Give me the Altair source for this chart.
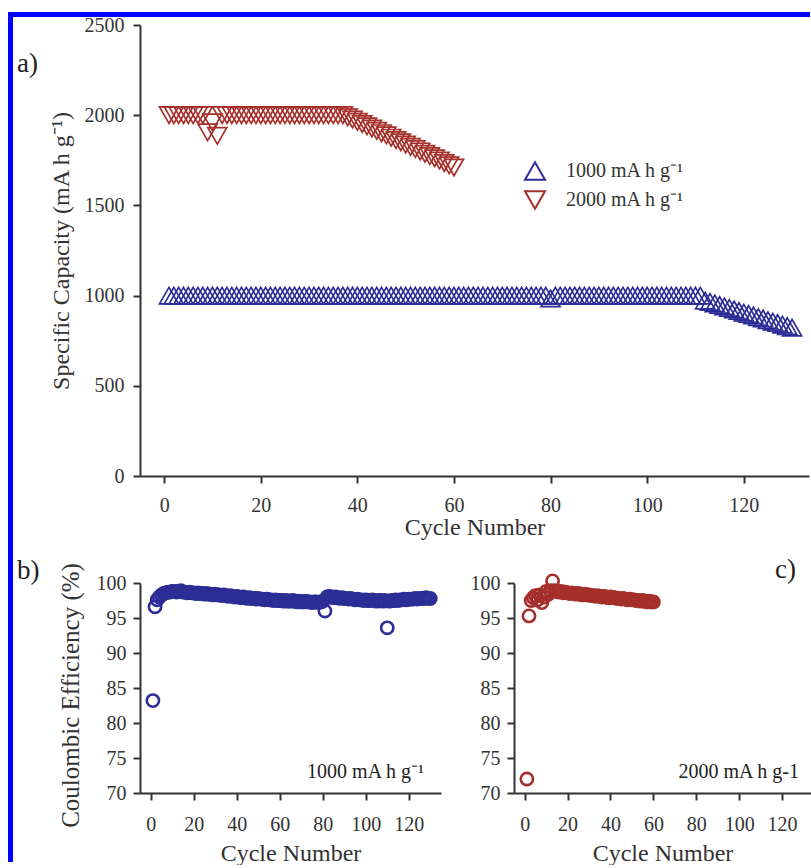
import altair as alt
import pandas as pd

# ---------------- data ----------------
cycles_1000 = list(range(1, 131))
cycles_2000 = list(range(1, 61))

cap_1000 = [
    1000, 1000, 1000, 1000, 1000, 1000, 1000, 1000, 1000, 1000,
    1000, 1000, 1000, 1000, 1000, 1000, 1000, 1000, 1000, 1000,
    1000, 1000, 1000, 1000, 1000, 1000, 1000, 1000, 1000, 1000,
    1000, 1000, 1000, 1000, 1000, 1000, 1000, 1000, 1000, 1000,
    1000, 1000, 1000, 1000, 1000, 1000, 1000, 1000, 1000, 1000,
    1000, 1000, 1000, 1000, 1000, 1000, 1000, 1000, 1000, 1000,
    1000, 1000, 1000, 1000, 1000, 1000, 1000, 1000, 1000, 1000,
    1000, 1000, 1000, 1000, 1000, 1000, 1000, 1000, 1000, 985,
    1000, 1000, 1000, 1000, 1000, 1000, 1000, 1000, 1000, 1000,
    1000, 1000, 1000, 1000, 1000, 1000, 1000, 1000, 1000, 1000,
    1000, 1000, 1000, 1000, 1000, 1000, 1000, 1000, 1000, 1000,
    1000, 972, 965, 957, 948, 940, 932, 923, 915, 906,
    898, 890, 881, 873, 864, 856, 848, 839, 831, 822,
]

cap_2000 = [
    2000, 2000, 2000, 2000, 2000, 2000, 2000, 2000, 1905, 1960,
    1885, 2000, 2000, 2000, 2000, 2000, 2000, 2000, 2000, 2000,
    2000, 2000, 2000, 2000, 2000, 2000, 2000, 2000, 2000, 2000,
    2000, 2000, 2000, 2000, 2000, 2000, 2000, 1988, 1976, 1963,
    1951, 1938, 1926, 1913, 1900, 1888, 1875, 1862, 1850, 1837,
    1824, 1812, 1799, 1786, 1773, 1761, 1748, 1735, 1722, 1710,
]

ce_1000 = [
    83.2, 96.6, 97.6, 98.0, 98.3, 98.5, 98.6, 98.7, 98.7, 98.8,
    98.8, 98.7, 98.8, 98.9, 98.7, 98.7, 98.6, 98.7, 98.6, 98.6,
    98.5, 98.6, 98.5, 98.5, 98.4, 98.5, 98.4, 98.4, 98.3, 98.4,
    98.3, 98.3, 98.2, 98.3, 98.2, 98.1, 98.2, 98.1, 98.0, 98.1,
    98.0, 97.9, 98.0, 97.9, 97.8, 97.9, 97.8, 97.8, 97.7, 97.8,
    97.7, 97.7, 97.6, 97.7, 97.6, 97.6, 97.5, 97.6, 97.5, 97.5,
    97.5, 97.4, 97.5, 97.4, 97.4, 97.5, 97.4, 97.3, 97.4, 97.3,
    97.3, 97.4, 97.3, 97.3, 97.2, 97.3, 97.3, 97.2, 97.3, 97.4,
    96.0, 98.0, 98.1, 98.0, 97.9, 98.0, 97.9, 97.8, 97.9, 97.8,
    97.8, 97.7, 97.8, 97.7, 97.6, 97.7, 97.6, 97.6, 97.5, 97.6,
    97.5, 97.5, 97.6, 97.5, 97.4, 97.5, 97.5, 97.4, 97.5, 93.6,
    97.4, 97.5, 97.5, 97.6, 97.5, 97.6, 97.6, 97.7, 97.6, 97.7,
    97.7, 97.7, 97.8, 97.7, 97.8, 97.8, 97.8, 97.9, 97.8, 97.8,
]

ce_2000 = [
    72.0, 95.3, 97.5, 97.9, 98.2, 97.6, 98.3, 97.2, 98.0, 98.8,
    98.4, 98.9, 100.3, 98.9, 98.8, 98.7, 98.8, 98.6, 98.7, 98.6,
    98.5, 98.6, 98.5, 98.4, 98.5, 98.4, 98.3, 98.4, 98.3, 98.3,
    98.2, 98.2, 98.1, 98.2, 98.1, 98.0, 98.1, 98.0, 97.9, 98.0,
    97.9, 97.9, 97.8, 97.8, 97.7, 97.8, 97.7, 97.6, 97.7, 97.6,
    97.6, 97.5, 97.5, 97.4, 97.5, 97.4, 97.3, 97.4, 97.3, 97.3,
]

series_labels = ["1000 mA h g\u207b\u00b9", "2000 mA h g\u207b\u00b9"]
series_shapes = ["triangle-up", "triangle-down"]
BLUE = "#2d2d96"
RED = "#a52f2a"
BORDER = "#0000ff"
FONT = "Liberation Serif"
x_ticks = [0, 20, 40, 60, 80, 100, 120]

cap_df = pd.concat([
    pd.DataFrame({"cycle": cycles_1000, "cap": cap_1000, "rate": series_labels[0]}),
    pd.DataFrame({"cycle": cycles_2000, "cap": cap_2000, "rate": series_labels[1]}),
])
ce1_df = pd.DataFrame({"cycle": cycles_1000, "ce": ce_1000})
ce2_df = pd.DataFrame({"cycle": cycles_2000, "ce": ce_2000})

one = alt.Data(values=[{}])

# ---------------- panel a ----------------
leg = alt.Legend(
    orient="none", legendX=384, legendY=135, title=None, padding=0,
    symbolSize=400, symbolStrokeWidth=2, rowPadding=3, labelOffset=20,
    labelFont=FONT, labelFontSize=20, labelColor="#333",
)
pts_a = alt.Chart(cap_df).mark_point(filled=False, size=361, strokeWidth=1.7, opacity=1).encode(
    x=alt.X("cycle:Q", scale=alt.Scale(domain=[-5, 133.5], nice=False, zero=False),
            axis=alt.Axis(values=x_ticks, format="d", title="Cycle Number",
                          labelPadding=12, titlePadding=0)),
    y=alt.Y("cap:Q", scale=alt.Scale(domain=[0, 2500], nice=False),
            axis=alt.Axis(values=[0, 500, 1000, 1500, 2000, 2500], format="d",
                          title="Specific Capacity (mA h g\u207b\u00b9)",
                          labelPadding=9, titlePadding=11, titleFontSize=24)),
    color=alt.Color("rate:N", scale=alt.Scale(domain=series_labels, range=[BLUE, RED]), legend=leg),
    shape=alt.Shape("rate:N", scale=alt.Scale(domain=series_labels, range=series_shapes), legend=leg),
)

left_border = alt.Chart(one).mark_rect(color=BORDER).encode(
    x=alt.value(-132), x2=alt.value(-127), y=alt.value(-13), y2=alt.value(837))
top_border = alt.Chart(one).mark_rect(color=BORDER).encode(
    x=alt.value(-132), x2=alt.value(670), y=alt.value(-13), y2=alt.value(-8))
label_a = alt.Chart(one).mark_text(text="a)", font=FONT, fontSize=27, align="left",
                                   baseline="alphabetic", color="#222").encode(
    x=alt.value(-123), y=alt.value(47))

panel_a = alt.layer(pts_a, left_border, top_border, label_a).properties(width=669, height=451)

# ---------------- panel b ----------------
pts_b = alt.Chart(ce1_df).mark_point(shape="circle", filled=False, size=150, strokeWidth=2.6,
                                     color=BLUE, opacity=1).encode(
    x=alt.X("cycle:Q", scale=alt.Scale(domain=[-5, 135], nice=False, zero=False),
            axis=alt.Axis(values=x_ticks, format="d", title="Cycle Number",
                          labelPadding=14, titlePadding=7)),
    y=alt.Y("ce:Q", scale=alt.Scale(domain=[70, 100], nice=False, zero=False),
            axis=alt.Axis(values=[70, 75, 80, 85, 90, 95, 100], format="d",
                          title="Coulombic Efficiency (%)",
                          labelPadding=7, titlePadding=13, titleFontSize=25, titleY=112)),
)
ann_b = alt.Chart(one).mark_text(text="1000 mA h g\u207b\u00b9", font=FONT, fontSize=20, align="right",
                                 baseline="alphabetic", color="#222").encode(
    x=alt.value(284), y=alt.value(195))
label_b = alt.Chart(one).mark_text(text="b)", font=FONT, fontSize=27, align="left",
                                   baseline="alphabetic", color="#222").encode(
    x=alt.value(-123), y=alt.value(-4))
panel_b = alt.layer(pts_b, ann_b, label_b).properties(width=301, height=210)

# ---------------- panel c ----------------
pts_c = alt.Chart(ce2_df).mark_point(shape="circle", filled=False, size=150, strokeWidth=2.6,
                                     color=RED, opacity=1).encode(
    x=alt.X("cycle:Q", scale=alt.Scale(domain=[-5, 133.5], nice=False, zero=False),
            axis=alt.Axis(values=x_ticks, format="d", title="Cycle Number",
                          labelPadding=14, titlePadding=7)),
    y=alt.Y("ce:Q", scale=alt.Scale(domain=[70, 100], nice=False, zero=False),
            axis=alt.Axis(values=[70, 75, 80, 85, 90, 95, 100], format="d",
                          title=None, labelPadding=7)),
)
ann_c = alt.Chart(one).mark_text(text="2000 mA h g-1", font=FONT, fontSize=20, align="right",
                                 baseline="alphabetic", color="#222").encode(
    x=alt.value(285), y=alt.value(195))
label_c = alt.Chart(one).mark_text(text="c)", font=FONT, fontSize=27, align="left",
                                   baseline="alphabetic", color="#222").encode(
    x=alt.value(261), y=alt.value(-5))
panel_c = alt.layer(pts_c, ann_c, label_c).properties(width=297, height=210)

bottom = alt.hconcat(panel_b, panel_c, spacing=73, bounds="flush")
chart = alt.vconcat(panel_a, bottom, spacing=107, bounds="flush").properties(
    padding={"left": 8, "top": 12, "right": 0, "bottom": 0},
    background="white",
).configure_view(stroke=None).configure_axis(
    grid=False,
    domainColor="#333", domainWidth=2,
    tickColor="#333", tickWidth=2, tickSize=7,
    labelColor="#333", labelFont=FONT, labelFontSize=20,
    titleColor="#333", titleFont=FONT, titleFontSize=24, titleFontWeight="normal",
)

chart.save("out.html", embed_options={"renderer": "svg", "actions": False})
